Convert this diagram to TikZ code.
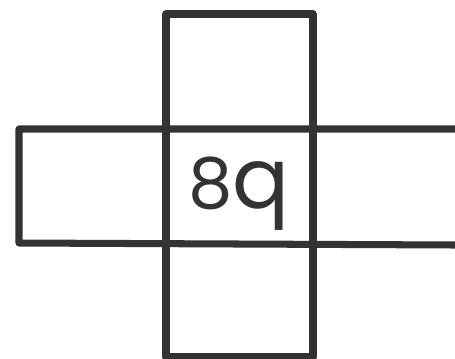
\documentclass[tikz,border=0pt]{standalone}
\usepackage{fontspec}
\setmainfont{Poppins}
\usepackage{tikz}
\usetikzlibrary{positioning}

\begin{document}
\begin{tikzpicture}[x=0.02cm, y=-0.02cm,
    gridline/.style={draw=black!80, line width=4pt, line join=round, line cap=round},
    every node/.style={font=\fontsize{40}{44}\selectfont, text=black!80}]
    \useasboundingbox (0,0) rectangle (455,358);
    % column of three cells
    \draw[gridline] (166,14) rectangle (313,357);
    % row of three cells
    \draw[gridline] (455,129) -- (19,129) -- (19,243) -- (455,245);
    \node[anchor=base, inner sep=0pt] (label) at (239,208) {8\scalebox{1.2}{q}};
\end{tikzpicture}
\end{document}
